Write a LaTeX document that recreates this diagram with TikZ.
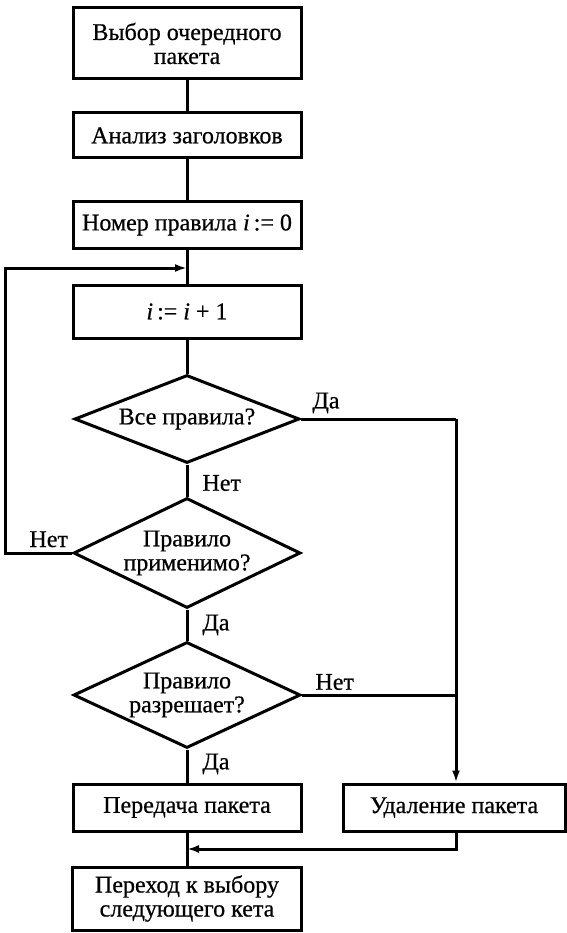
\documentclass[tikz,border=0pt]{standalone}
\usepackage{fontspec}
\setmainfont{Liberation Serif}[FakeBold=0.6]
\usetikzlibrary{shapes.geometric,arrows.meta}
\begin{document}
\begin{tikzpicture}[x=1pt,y=-1pt, line width=3pt,
  every node/.style={font=\fontsize{24}{24}\selectfont},
  box/.style={draw, rectangle, minimum width=228pt, inner sep=0pt, align=center},
  dia/.style={draw, diamond, inner sep=0pt, aspect=2.5},
  lbl/.style={inner sep=0pt},
  arr/.style={-{Latex[length=12pt,width=8pt]}}
]
\useasboundingbox (0,0) rectangle (566,933);
\node[box, minimum height=71pt] (b1) at (187,43.5) {Выбор очередного\\пакета};
\node[box, minimum height=45pt] (b2) at (187,135.5) {Анализ заголовков};
\node[box, minimum height=46pt] (b3) at (187,225) {Номер правила \textit{i}\,:= 0};
\node[box, minimum height=53pt] (b4) at (187,311.5) {\textit{i}\,:= \textit{i} + 1};
\node[dia, minimum width=225pt, minimum height=88pt,
  label={[align=center]center:Все правила?}] (d1) at (187,419) {};
\node[dia, minimum width=227pt, minimum height=110pt,
  label={[align=center]center:Правило\\применимо?}] (d2) at (187,553) {};
\node[dia, minimum width=227pt, minimum height=106pt,
  label={[align=center]center:Правило\\разрешает?}] (d3) at (187,695) {};
\node[box, minimum height=47pt] (b5) at (187,807.5) {Передача пакета};
\node[box, minimum width=222pt, minimum height=47pt] (b6) at (454,807.5) {Удаление пакета};
\node[box, minimum width=229pt, minimum height=63pt] (b7) at (187,898.5) {Переход к выбору\\следующего кета};

\coordinate (m1) at (187,268);
\coordinate (j1) at (456,419);
\coordinate (m2) at (187,849);

\node[lbl, anchor=west] (l1) at (311,403) {Да};
\node[lbl, anchor=west] (l2) at (201,483) {Нет};
\node[lbl, anchor=base west] (l3) at (28,547) {Нет};
\node[lbl, anchor=west] (l4) at (201,625) {Да};
\node[lbl, anchor=west] (l5) at (314,682) {Нет};
\node[lbl, anchor=west] (l6) at (201,764) {Да};

\draw (b1.south) -- (b2.north);
\draw (b2.south) -- (b3.north);
\draw (b3.south) -- (b4.north);
\draw (b4.south) -- (d1.north);
\draw (d1.south) -- (d2.north);
\draw (d2.south) -- (d3.north);
\draw (d3.south) -- (b5.north);
\draw (b5.south) -- (b7.north);
\draw[arr] (d2.west) -- ++(-67,0) |- (m1);
\draw (d1.east) -- (j1);
\draw (d3.east) -- (j1 |- d3.east);
\draw[arr] (j1) -- (j1 |- b6.north);
\draw[arr] (j1 |- b6.south) |- (m2);
\end{tikzpicture}
\end{document}
